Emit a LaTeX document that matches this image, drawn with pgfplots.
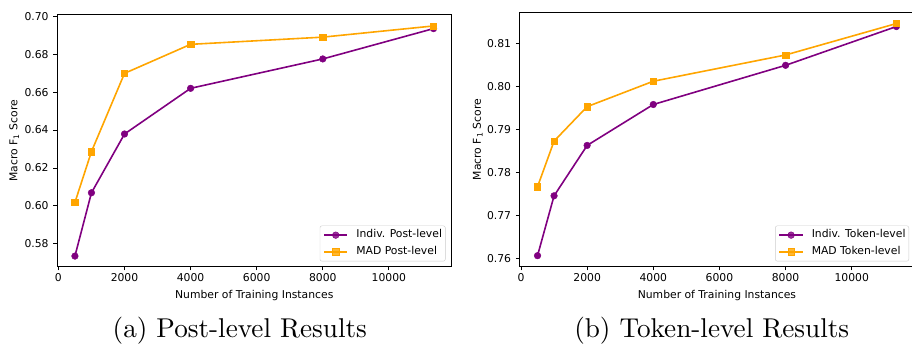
\documentclass[border=0pt]{standalone}
\usepackage{fontspec}
\usepackage{pgfplots}
\pgfplotsset{compat=1.18}
\newfontfamily\dv{DejaVu Sans}
\newfontfamily\capfont{lmroman10-regular}[Extension=.otf]
\definecolor{mplpurple}{HTML}{800080}
\definecolor{mplorange}{HTML}{FFA500}
\pgfplotsset{
  mystyle/.style={
    scale only axis,
    axis line style={line width=0.85pt},
    tick align=outside, xtick pos=lower, ytick pos=left,
    major tick length=3.7pt,
    every tick/.style={black, line width=0.85pt},
    /pgf/number format/assume math mode=true,
    tick label style={font=\dv\fontsize{10.8}{12}\selectfont},
    label style={font=\dv\fontsize{10.8}{12}\selectfont},
    xtick={0,2000,4000,6000,8000,10000},
    scaled x ticks=false,
    x tick label style={/pgf/number format/1000 sep={}},
    y tick label style={/pgf/number format/.cd,fixed,fixed zerofill,precision=2, /tikz/xshift=-1.2pt},
    scaled y ticks=false,
    ylabel={Macro F\textsubscript{1} Score},
    xlabel={Number of Training Instances},
    legend cell align=left,
    legend style={at={(1,0)}, anchor=south east, xshift=-6pt, yshift=5.3pt,
      draw=black!20, rounded corners=2pt, fill=white, fill opacity=0.8, text opacity=1,
      font=\dv\fontsize{10.8}{12}\selectfont,
      inner xsep=3.3pt, inner ysep=4pt, row sep=6pt,
      nodes={inner sep=0pt, text height=8.2pt, text depth=2.5pt},
      /tikz/every odd column/.append style={column sep=8.2pt}},
    legend image code/.code={\draw[mark repeat=2,mark phase=2,#1] plot coordinates {(0pt,0pt) (11.65pt,0pt) (23.3pt,0pt)};},
    indiv/.style={mplpurple, line width=1.6pt, mark=*, mark size=3.3pt, mark options={solid, draw=mplpurple, fill=mplpurple, line width=0.5pt}},
    mad/.style={mplorange, line width=1.6pt, mark=square*, mark size=3.2pt, mark options={solid, draw=mplorange, fill=mplorange, line width=0.5pt}},
  }
}
\begin{document}
\begin{tikzpicture}[x=1pt,y=1pt]
\useasboundingbox (0,0) rectangle (912,345);
\begin{axis}[mystyle, at={(57pt,78.3pt)}, anchor=south west, width=394.5pt, height=252pt,
  xmin=-42.6, xmax=11894.6, ymin=0.5679, ymax=0.70084,
  ytick={0.58,0.60,0.62,0.64,0.66,0.68,0.70},
  xlabel style={at={(axis description cs:0.5,-0.1135)}, anchor=center},
  ylabel style={at={(axis description cs:-0.1082,0.5)}, anchor=center}]
\addplot[indiv] coordinates {(500,0.5735) (1000,0.6069) (2000,0.6379) (4000,0.6620) (8000,0.6775) (11350,0.6935)};
\addlegendentry{Indiv. Post-level}
\addplot[mad] coordinates {(500,0.6018) (1000,0.6286) (2000,0.6699) (4000,0.6852) (8000,0.6890) (11350,0.6949)};
\addlegendentry{MAD Post-level}
\end{axis}
\begin{axis}[mystyle, at={(519.5pt,78.3pt)}, anchor=south west, width=394.9pt, height=254.4pt,
  xmin=-45, xmax=11895, ymin=0.75814, ymax=0.81721,
  ytick={0.76,0.77,0.78,0.79,0.80,0.81},
  legend style={xshift=-5.4pt+6pt},
  xlabel style={at={(axis description cs:0.5,-0.1124)}, anchor=center},
  ylabel style={at={(axis description cs:-0.1056,0.5)}, anchor=center}]
\addplot[indiv] coordinates {(500,0.7607) (1000,0.7746) (2000,0.7863) (4000,0.7958) (8000,0.8049) (11350,0.8139)};
\addlegendentry{Indiv. Token-level}
\addplot[mad] coordinates {(500,0.7767) (1000,0.7873) (2000,0.7953) (4000,0.8012) (8000,0.8073) (11350,0.8146)};
\addlegendentry{MAD Token-level}
\end{axis}
\node[font=\capfont\fontsize{27.2}{30}\selectfont, anchor=base, inner sep=0pt] at (239.8,7.7) {(a) Post-level Results};
\node[font=\capfont\fontsize{27.2}{30}\selectfont, anchor=base, inner sep=0pt] at (711.7,7.7) {(b) Token-level Results};
\end{tikzpicture}
\end{document}
